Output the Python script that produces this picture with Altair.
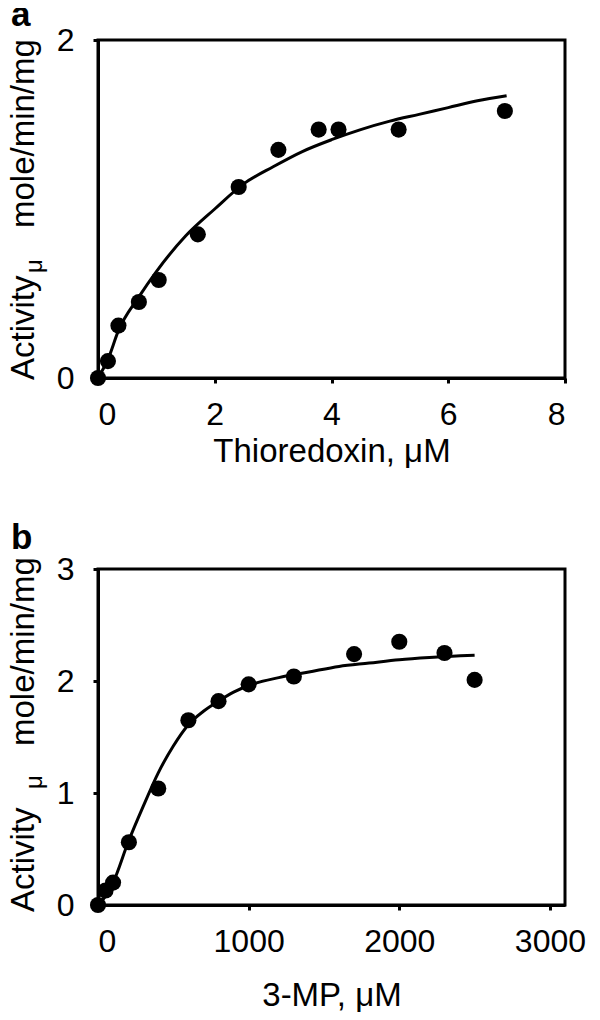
import altair as alt
import pandas as pd

# ---- Panel a: Thioredoxin ----
a_x = [0.0, 0.17, 0.35, 0.70, 1.04, 1.71, 2.41, 3.09, 3.78, 4.12, 5.15, 6.97]
a_y = [0.0, 0.10, 0.31, 0.45, 0.58, 0.85, 1.13, 1.35, 1.47, 1.47, 1.47, 1.58]
a_fit_x = [0.0, 0.17, 0.35, 0.7, 1.0, 1.5, 2.0, 2.5, 3.0, 3.5, 4.0, 4.5, 5.0, 5.5, 6.0, 6.5, 7.0]
a_fit_y = [0.0, 0.11, 0.28, 0.48, 0.63, 0.84, 1.00, 1.15, 1.25, 1.34, 1.41, 1.47, 1.52, 1.56, 1.60, 1.64, 1.67]
a_xticks = [0, 2, 4, 6, 8]
a_yticks = [0, 1, 2]

# ---- Panel b: 3-MP ----
b_x = [0, 50, 100, 205, 400, 600, 800, 1000, 1300, 1700, 2000, 2300, 2500]
b_y = [0.0, 0.13, 0.20, 0.56, 1.04, 1.65, 1.82, 1.97, 2.04, 2.24, 2.35, 2.25, 2.01]
b_fit_x = [0, 50, 100, 200, 300, 400, 500, 600, 700, 800, 900, 1000, 1200, 1400, 1600, 1800, 2000, 2200, 2500]
b_fit_y = [0.0, 0.08, 0.20, 0.56, 0.88, 1.18, 1.42, 1.61, 1.73, 1.82, 1.90, 1.96, 2.03, 2.08, 2.13, 2.16, 2.19, 2.21, 2.23]
b_xticks = [0, 1000, 2000, 3000]
b_yticks = [0, 1, 2, 3]

FONT = "Liberation Sans"
W = 467


def panel(px, py, fx, fy, xdom, xticks, ydom, yticks, xtitle, letter, h,
          title_pad, act_y, mu_y, mole_y, letter_y):
    pts = pd.DataFrame({"x": px, "y": py})
    fit = pd.DataFrame({"x": fx, "y": fy})
    xenc = alt.X("x:Q", scale=alt.Scale(domain=xdom, nice=False, zero=False),
                 axis=alt.Axis(values=xticks, title=xtitle, titlePadding=title_pad,
                               labelPadding=16, format="d", labelOverlap=False))
    yenc = alt.Y("y:Q", scale=alt.Scale(domain=ydom, nice=False, zero=False),
                 axis=alt.Axis(values=yticks, title=None, labelPadding=19, format="d",
                               labelOverlap=False))
    line = alt.Chart(fit).mark_line(color="black", strokeWidth=3,
                                    interpolate="monotone").encode(x=xenc, y=yenc)
    dots = alt.Chart(pts).mark_circle(color="black", opacity=1, size=260).encode(
        x="x:Q", y="y:Q")
    one = pd.DataFrame({"k": [0]})
    t_act = alt.Chart(one).mark_text(text="Activity", angle=270, align="left",
                                     baseline="alphabetic", font=FONT, fontSize=33,
                                     color="black").encode(
        x=alt.value(-64), y=alt.value(act_y))
    t_mu = alt.Chart(one).mark_text(text="μ", angle=270, align="left",
                                    baseline="alphabetic", font=FONT, fontSize=24,
                                    color="black").encode(
        x=alt.value(-56), y=alt.value(mu_y))
    t_mole = alt.Chart(one).mark_text(text="mole/min/mg", angle=270, align="left",
                                      baseline="alphabetic", font=FONT, fontSize=33,
                                      color="black").encode(
        x=alt.value(-64), y=alt.value(mole_y))
    t_let = alt.Chart(one).mark_text(text=letter, align="left", baseline="alphabetic",
                                     font=FONT, fontSize=35, fontWeight="bold",
                                     color="black").encode(
        x=alt.value(-87), y=alt.value(letter_y))
    return alt.layer(line, dots, t_act, t_mu, t_mole, t_let).properties(width=W, height=h)


pa = panel(a_x, a_y, a_fit_x, a_fit_y, [0, 8], a_xticks, [0, 2], a_yticks,
           "Thioredoxin, μM", "a", 338, 5, 340, 233, 188, -14)
pb = panel(b_x, b_y, b_fit_x, b_fit_y, [0, 3100], b_xticks, [0, 3], b_yticks,
           "3-MP, μM", "b", 336, 22, 343, 220, 177, -20)

chart = alt.vconcat(pa, pb, spacing=49).properties(
    padding={"top": -12, "left": -2, "right": 0, "bottom": 0}
).configure_view(
    stroke="black", strokeWidth=3
).configure_axis(
    grid=False, domainColor="black", domainWidth=3, tickColor="black", tickWidth=3,
    tickSize=5, labelFont=FONT, labelFontSize=32, labelColor="black",
    titleFont=FONT, titleFontSize=33, titleFontWeight="normal", titleColor="black"
)

chart.save("out.html", embed_options={"renderer": "svg", "actions": False})
